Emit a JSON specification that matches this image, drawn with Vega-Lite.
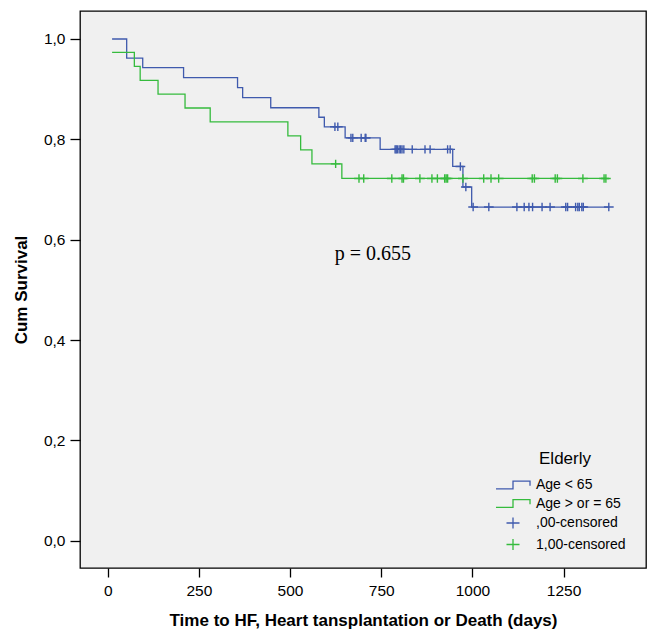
{
  "$schema": "https://vega.github.io/schema/vega-lite/v6.json",
  "width": 566,
  "height": 557,
  "autosize": {"type": "none"},
  "padding": {"left": 80, "top": 11, "right": 3, "bottom": 66},
  "background": "white",
  "config": {
    "view": {"fill": "#f0f0f0", "stroke": "black", "strokeWidth": 1.3},
    "font": "Liberation Sans",
    "axis": {
      "labelFont": "Liberation Sans", "labelFontSize": 15.5, "labelColor": "black",
      "titleFont": "Liberation Sans", "titleFontSize": 17, "titleFontWeight": "bold", "titleColor": "black",
      "domain": false, "grid": false, "tickColor": "black", "tickWidth": 1.3
    }
  },
  "datasets": {
    "curves": [
      {"series": "Age < 65", "t": 12, "s": 1.0},
      {"series": "Age < 65", "t": 52, "s": 0.962},
      {"series": "Age < 65", "t": 96, "s": 0.943},
      {"series": "Age < 65", "t": 208, "s": 0.923},
      {"series": "Age < 65", "t": 356, "s": 0.903},
      {"series": "Age < 65", "t": 370, "s": 0.883},
      {"series": "Age < 65", "t": 447, "s": 0.863},
      {"series": "Age < 65", "t": 579, "s": 0.844},
      {"series": "Age < 65", "t": 594, "s": 0.825},
      {"series": "Age < 65", "t": 651, "s": 0.803},
      {"series": "Age < 65", "t": 747, "s": 0.780},
      {"series": "Age < 65", "t": 946, "s": 0.746},
      {"series": "Age < 65", "t": 974, "s": 0.705},
      {"series": "Age < 65", "t": 998, "s": 0.665},
      {"series": "Age < 65", "t": 1375, "s": 0.665},
      {"series": "Age > or = 65", "t": 12, "s": 0.9735},
      {"series": "Age > or = 65", "t": 73, "s": 0.9456},
      {"series": "Age > or = 65", "t": 89, "s": 0.9177},
      {"series": "Age > or = 65", "t": 138, "s": 0.890},
      {"series": "Age > or = 65", "t": 212, "s": 0.8625},
      {"series": "Age > or = 65", "t": 281, "s": 0.835},
      {"series": "Age > or = 65", "t": 494, "s": 0.807},
      {"series": "Age > or = 65", "t": 529, "s": 0.779},
      {"series": "Age > or = 65", "t": 560, "s": 0.751},
      {"series": "Age > or = 65", "t": 642, "s": 0.722},
      {"series": "Age > or = 65", "t": 1367, "s": 0.722}
    ],
    "censors": [
      {"series": ",00-censored", "t": 623, "s": 0.825},
      {"series": ",00-censored", "t": 631, "s": 0.825},
      {"series": ",00-censored", "t": 667, "s": 0.803},
      {"series": ",00-censored", "t": 672, "s": 0.803},
      {"series": ",00-censored", "t": 695, "s": 0.803},
      {"series": ",00-censored", "t": 706, "s": 0.803},
      {"series": ",00-censored", "t": 708, "s": 0.803},
      {"series": ",00-censored", "t": 788, "s": 0.780},
      {"series": ",00-censored", "t": 791, "s": 0.780},
      {"series": ",00-censored", "t": 794, "s": 0.780},
      {"series": ",00-censored", "t": 799, "s": 0.780},
      {"series": ",00-censored", "t": 803, "s": 0.780},
      {"series": ",00-censored", "t": 807, "s": 0.780},
      {"series": ",00-censored", "t": 812, "s": 0.780},
      {"series": ",00-censored", "t": 835, "s": 0.780},
      {"series": ",00-censored", "t": 870, "s": 0.780},
      {"series": ",00-censored", "t": 884, "s": 0.780},
      {"series": ",00-censored", "t": 932, "s": 0.780},
      {"series": ",00-censored", "t": 939, "s": 0.780},
      {"series": ",00-censored", "t": 967, "s": 0.746},
      {"series": ",00-censored", "t": 982, "s": 0.705},
      {"series": ",00-censored", "t": 1002, "s": 0.665},
      {"series": ",00-censored", "t": 1045, "s": 0.665},
      {"series": ",00-censored", "t": 1122, "s": 0.665},
      {"series": ",00-censored", "t": 1142, "s": 0.665},
      {"series": ",00-censored", "t": 1155, "s": 0.665},
      {"series": ",00-censored", "t": 1165, "s": 0.665},
      {"series": ",00-censored", "t": 1191, "s": 0.665},
      {"series": ",00-censored", "t": 1213, "s": 0.665},
      {"series": ",00-censored", "t": 1256, "s": 0.665},
      {"series": ",00-censored", "t": 1261, "s": 0.665},
      {"series": ",00-censored", "t": 1283, "s": 0.665},
      {"series": ",00-censored", "t": 1289, "s": 0.665},
      {"series": ",00-censored", "t": 1293, "s": 0.665},
      {"series": ",00-censored", "t": 1300, "s": 0.665},
      {"series": ",00-censored", "t": 1304, "s": 0.665},
      {"series": ",00-censored", "t": 1374, "s": 0.665},
      {"series": "1,00-censored", "t": 625, "s": 0.751},
      {"series": "1,00-censored", "t": 689, "s": 0.722},
      {"series": "1,00-censored", "t": 702, "s": 0.722},
      {"series": "1,00-censored", "t": 779, "s": 0.722},
      {"series": "1,00-censored", "t": 807, "s": 0.722},
      {"series": "1,00-censored", "t": 811, "s": 0.722},
      {"series": "1,00-censored", "t": 856, "s": 0.722},
      {"series": "1,00-censored", "t": 889, "s": 0.722},
      {"series": "1,00-censored", "t": 904, "s": 0.722},
      {"series": "1,00-censored", "t": 924, "s": 0.722},
      {"series": "1,00-censored", "t": 928, "s": 0.722},
      {"series": "1,00-censored", "t": 932, "s": 0.722},
      {"series": "1,00-censored", "t": 974, "s": 0.722},
      {"series": "1,00-censored", "t": 1031, "s": 0.722},
      {"series": "1,00-censored", "t": 1051, "s": 0.722},
      {"series": "1,00-censored", "t": 1072, "s": 0.722},
      {"series": "1,00-censored", "t": 1164, "s": 0.722},
      {"series": "1,00-censored", "t": 1170, "s": 0.722},
      {"series": "1,00-censored", "t": 1227, "s": 0.722},
      {"series": "1,00-censored", "t": 1233, "s": 0.722},
      {"series": "1,00-censored", "t": 1303, "s": 0.722},
      {"series": "1,00-censored", "t": 1361, "s": 0.722},
      {"series": "1,00-censored", "t": 1366, "s": 0.722}
    ],
    "annot": [
      {"label": "p = 0.655", "t": 727, "s": 0.572}
    ]
  },
  "layer": [
    {
      "data": {"name": "curves"},
      "mark": {"type": "line", "interpolate": "step-after", "strokeWidth": 1.3},
      "encoding": {
        "x": {
          "field": "t", "type": "quantitative",
          "scale": {"domain": [-76, 1476], "nice": false, "zero": false},
          "axis": {"values": [0, 250, 500, 750, 1000, 1250], "format": "d", "tickSize": 9, "labelPadding": 6, "titlePadding": 14,
                   "title": "Time to HF, Heart tansplantation or Death (days)"}
        },
        "y": {
          "field": "s", "type": "quantitative",
          "scale": {"domain": [-0.0544, 1.0558], "nice": false, "zero": false},
          "axis": {"values": [0, 0.2, 0.4, 0.6, 0.8, 1.0], "labelExpr": "replace(format(datum.value, '.1f'), '.', ',')",
                   "tickSize": 10, "labelPadding": 5, "titlePadding": 13, "title": "Cum Survival"}
        },
        "stroke": {
          "field": "series", "type": "nominal",
          "scale": {"domain": ["Age < 65", "Age > or = 65"], "range": ["#3f5aad", "#35bb3d"]},
          "legend": null
        }
      }
    },
    {
      "data": {"name": "censors"},
      "mark": {"type": "point", "filled": false, "size": 110, "strokeWidth": 1.4, "opacity": 1},
      "encoding": {
        "x": {"field": "t", "type": "quantitative"},
        "y": {"field": "s", "type": "quantitative"},
        "color": {
          "field": "series", "type": "nominal",
          "scale": {"domain": ["Age < 65", "Age > or = 65", ",00-censored", "1,00-censored"],
                    "range": ["#3f5aad", "#35bb3d", "#3f5aad", "#35bb3d"]},
          "legend": {
            "title": "Elderly", "orient": "none", "legendX": 425, "legendY": 440, "padding": 0,
            "titleFont": "Liberation Sans", "titleFontSize": 17, "titleFontWeight": "normal", "titleColor": "black",
            "titleAnchor": "middle", "titlePadding": 9,
            "labelFont": "Liberation Sans", "labelFontSize": 14, "labelColor": "black", "labelOffset": 15,
            "symbolSize": 196, "symbolStrokeWidth": 1.3, "rowPadding": 3.5
          }
        },
        "shape": {
          "field": "series", "type": "nominal",
          "scale": {"domain": ["Age < 65", "Age > or = 65", ",00-censored", "1,00-censored"],
                    "range": ["M-2.43,0.55H0V-0.55H2.43V0.1", "M-2.43,0.55H0V-0.55H2.43V0.1", "M-0.93,0H0.93M0,-0.8V0.8", "M-0.93,0H0.93M0,-0.8V0.8"]},
          "legend": {
            "title": "Elderly", "orient": "none", "legendX": 425, "legendY": 440, "padding": 0,
            "titleFont": "Liberation Sans", "titleFontSize": 17, "titleFontWeight": "normal", "titleColor": "black",
            "titleAnchor": "middle", "titlePadding": 9,
            "labelFont": "Liberation Sans", "labelFontSize": 14, "labelColor": "black", "labelOffset": 15,
            "symbolSize": 196, "symbolStrokeWidth": 1.3, "rowPadding": 3.5
          }
        }
      }
    },
    {
      "data": {"name": "annot"},
      "mark": {"type": "text", "font": "Liberation Serif", "fontSize": 20, "color": "black", "align": "center", "baseline": "middle"},
      "encoding": {
        "x": {"field": "t", "type": "quantitative"},
        "y": {"field": "s", "type": "quantitative"},
        "text": {"field": "label"}
      }
    }
  ]
}
